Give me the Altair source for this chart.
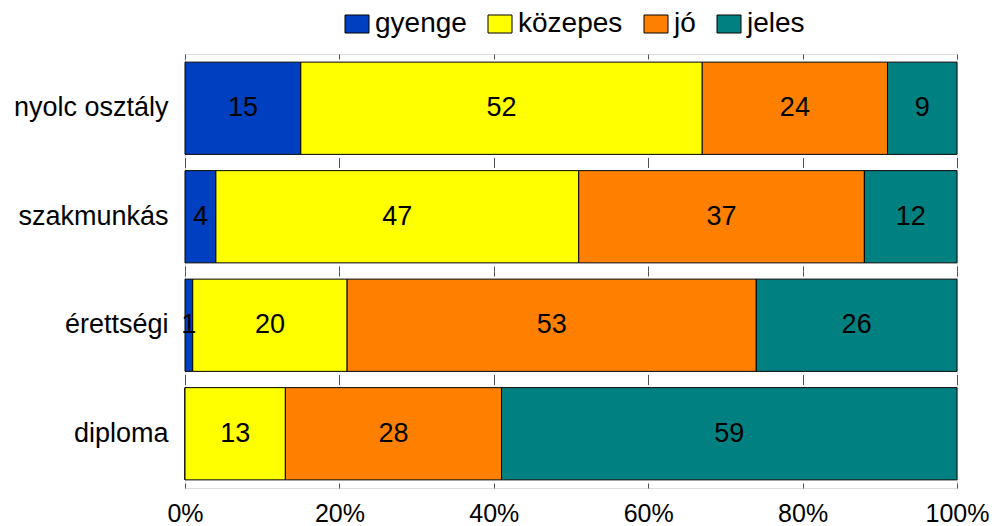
import altair as alt
import pandas as pd

categories = ["nyolc osztály", "szakmunkás", "érettségi", "diploma"]
grades = ["gyenge", "közepes", "jó", "jeles"]
colors = ["#0040C0", "#FFFF00", "#FF8000", "#008080"]
gyenge = [15, 4, 1, 0]
kozepes = [52, 47, 20, 13]
jo = [24, 37, 53, 28]
jeles = [9, 12, 26, 59]
x_ticks = [0, 0.2, 0.4, 0.6, 0.8, 1.0]

rows = []
for ci, c in enumerate(categories):
    for gi, (g, vals) in enumerate(zip(grades, [gyenge, kozepes, jo, jeles])):
        rows.append({"cat": c, "grade": g, "order": gi, "value": vals[ci]})
df = pd.DataFrame(rows)

FONT = "Liberation Sans"
FS = 27

base = alt.Chart(df).encode(
    y=alt.Y("cat:N", sort=categories, title=None,
            scale=alt.Scale(paddingInner=0.15, paddingOuter=0.075),
            axis=alt.Axis(ticks=False, domain=False, labelFontSize=FS, labelFont=FONT,
                          labelColor="black", labelPadding=17, labelLimit=300)),
)

bars = base.mark_bar(stroke="black", strokeWidth=1).encode(
    x=alt.X("value:Q", stack="normalize", title=None,
            scale=alt.Scale(domain=[0, 1], nice=False),
            axis=alt.Axis(values=x_ticks, format=".0%", ticks=False, domain=False,
                          labelFontSize=25, labelFont=FONT, labelColor="black",
                          labelPadding=13, grid=True, gridColor="#505050",
                          gridDash=[5, 98.5, 5, 0], gridWidth=1, labelFlush=False)),
    color=alt.Color("grade:N", sort=grades,
                    scale=alt.Scale(domain=grades, range=colors),
                    legend=alt.Legend(title=None, orient="none", direction="horizontal",
                                      legendX=158, legendY=-44, padding=0,
                                      symbolType="M-1,-0.75H1V0.75H-1Z", symbolSize=576,
                                      symbolStrokeColor="black", symbolStrokeWidth=1,
                                      labelFontSize=28, labelFont=FONT, labelColor="black",
                                      labelOffset=4, columnPadding=19)),
    order=alt.Order("order:Q"),
)

labels = base.mark_text(fontSize=FS, font=FONT, color="black").transform_filter(
    alt.datum.value > 0
).encode(
    x=alt.X("value:Q", stack="normalize", bandPosition=0.5),
    detail="grade:N",
    order=alt.Order("order:Q"),
    text=alt.Text("value:Q"),
)

chart = (bars + labels).properties(
    width=772, height=434,
    autosize=alt.AutoSizeParams(type="none"),
    padding={"left": 177, "top": 46, "right": 32, "bottom": 38},
).configure_view(
    stroke="#404040", strokeWidth=1.5
).configure(background="white")

chart.save("out.html", embed_options={"renderer": "svg", "actions": False})
